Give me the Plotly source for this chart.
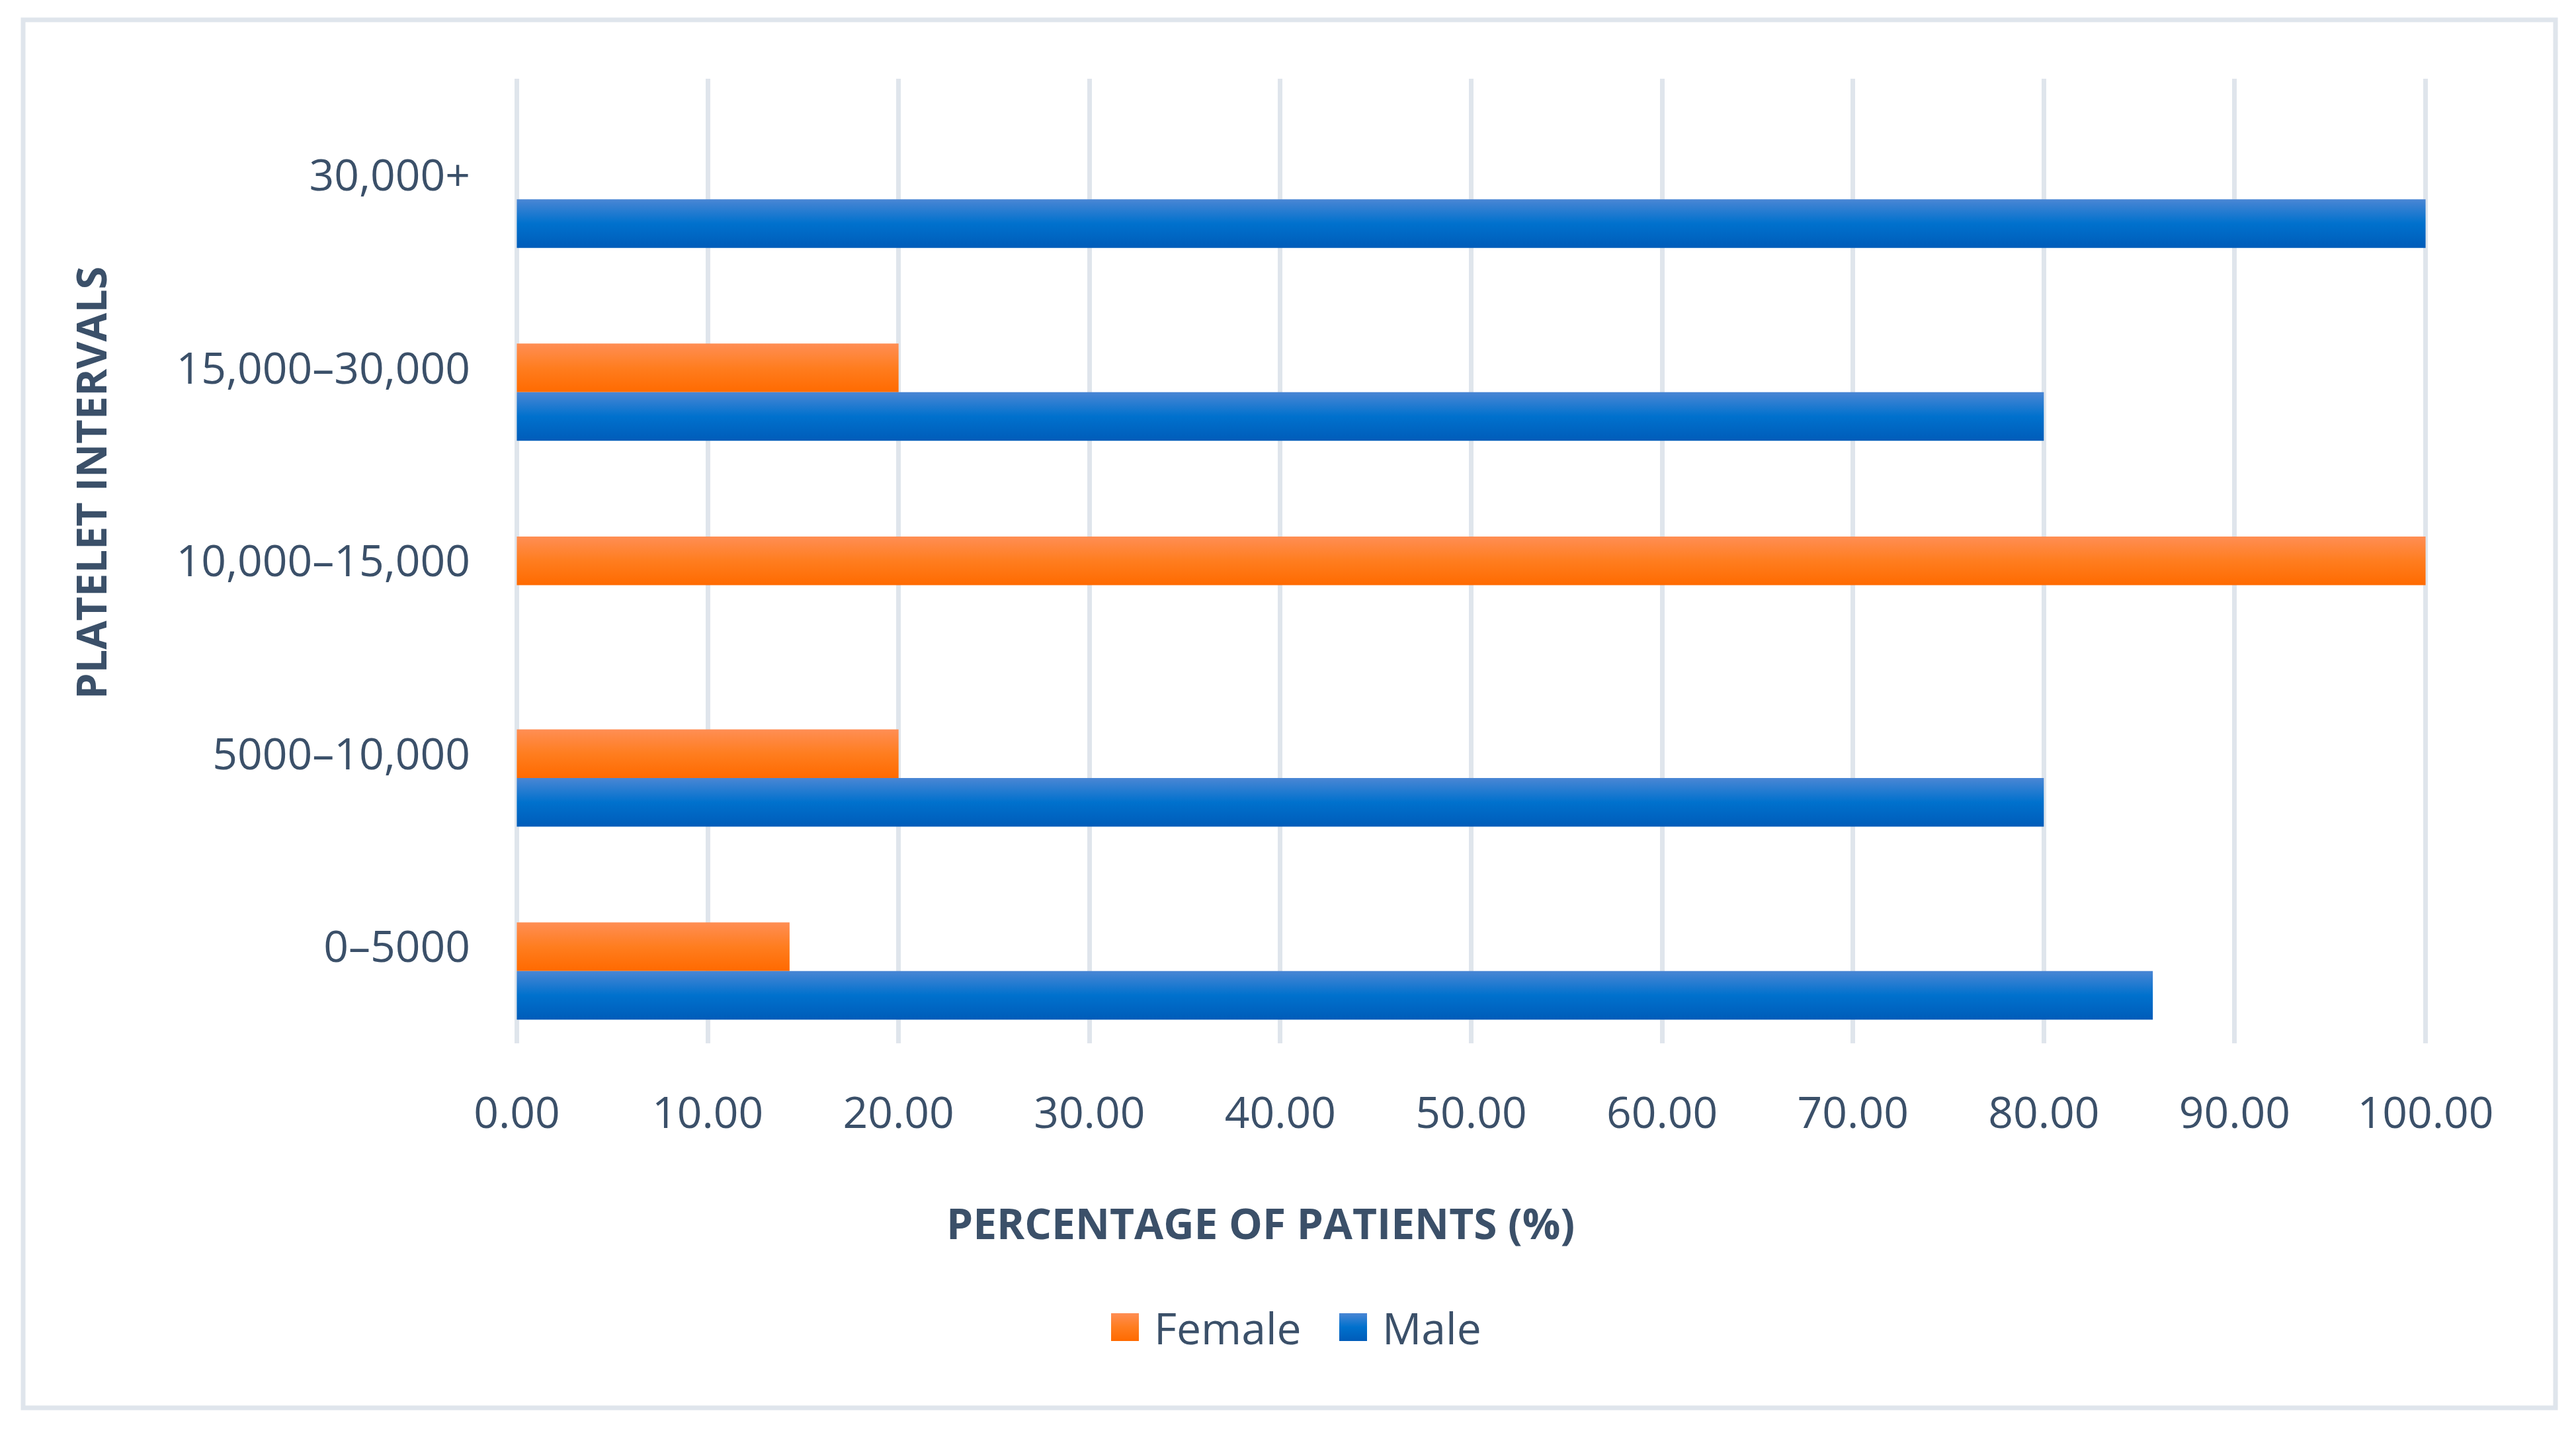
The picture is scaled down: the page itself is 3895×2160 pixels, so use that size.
import plotly.graph_objects as go

# ---- data ----
categories = ["0–5000", "5000–10,000", "10,000–15,000", "15,000–30,000", "30,000+"]
female = [14.29, 20.0, 100.0, 20.0, 0.0]
male = [85.71, 80.0, 0.0, 80.0, 100.0]
x_ticks = [0, 10, 20, 30, 40, 50, 60, 70, 80, 90, 100]
x_title = "PERCENTAGE OF PATIENTS (%)"
y_title = "PLATELET INTERVALS"

TEXT = "#3b5069"
GRID = "#dfe5ec"
FONT = "Open Sans"

W, H = 3895, 2160
L, R, T, B = 780, W - 3669, 119, H - 1577
pw, ph = W - L - R, H - T - B

fig = go.Figure()
fig.add_trace(go.Bar(
    name="Female", y=categories, x=female, orientation="h",
    marker=dict(color="#ff7a1c", line=dict(width=0)),
    width=0.252, offset=-0.125,
))
fig.add_trace(go.Bar(
    name="Male", y=categories, x=male, orientation="h",
    marker=dict(color="#0070cc", line=dict(width=0)),
    width=0.252, offset=-0.377,
))


def px_x(p):
    return (p - L) / pw


def px_y(p):
    return (H - B - p) / ph


fig.update_layout(
    width=W, height=H, autosize=False,
    paper_bgcolor="white", plot_bgcolor="white",
    margin=dict(l=L, r=R, t=T, b=B, pad=0, autoexpand=False),
    barmode="overlay",
    font=dict(family=FONT, color=TEXT, size=66),
    xaxis=dict(
        range=[-0.05, 100.05], tickvals=x_ticks, tickformat=".2f",
        showgrid=True, gridcolor=GRID, gridwidth=7,
        zeroline=False, showline=False, ticks="",
        ticklabelstandoff=61,
        tickfont=dict(family=FONT, size=66, color=TEXT),
        fixedrange=True,
    ),
    yaxis=dict(
        type="category", categoryorder="array", categoryarray=categories,
        range=[-0.5, 4.5], showgrid=False, zeroline=False, showline=False,
        ticks="", ticklabelstandoff=68,
        tickfont=dict(family=FONT, size=66, color=TEXT),
        fixedrange=True,
    ),
    showlegend=True,
    legend=dict(
        orientation="h", xref="container", yref="container",
        x=1705 / W, xanchor="left", y=(H - 2006) / H, yanchor="middle",
        font=dict(family=FONT, size=66, color=TEXT),
        bgcolor="rgba(0,0,0,0)", traceorder="normal",
        entrywidth=300, entrywidthmode="pixels",
    ),
    annotations=[
        dict(text="<b>" + x_title + "</b>", xref="paper", yref="paper",
             x=px_x(1906), y=px_y(1849), xanchor="center", yanchor="middle",
             showarrow=False, font=dict(family=FONT, size=64, color=TEXT)),
        dict(text="<b>" + y_title + "</b>", xref="paper", yref="paper",
             x=px_x(136), y=px_y(730), xanchor="center", yanchor="middle",
             textangle=-90, showarrow=False,
             font=dict(family=FONT, size=63, color=TEXT)),
    ],
    shapes=[
        dict(type="rect", xref="paper", yref="paper", layer="below",
             x0=px_x(35), x1=px_x(3864), y0=px_y(2128), y1=px_y(30),
             line=dict(color=GRID, width=7), fillcolor="rgba(0,0,0,0)"),
    ],
)

post = """
document.body.style.margin = '0';
document.body.style.padding = '0';
var gd = document.getElementById('{plot_id}');
function fixStyle(){
  var ns = 'http://www.w3.org/2000/svg';
  var svg = gd.querySelector('svg.main-svg');
  if (!svg) return;
  var defs = svg.querySelector('defs');
  if (!defs) { defs = document.createElementNS(ns, 'defs'); svg.insertBefore(defs, svg.firstChild); }
  function mk(id, stops){
    if (document.getElementById(id)) return;
    var g = document.createElementNS(ns, 'linearGradient');
    g.setAttribute('id', id); g.setAttribute('x1','0'); g.setAttribute('y1','0');
    g.setAttribute('x2','0'); g.setAttribute('y2','1');
    stops.forEach(function(s){
      var st = document.createElementNS(ns, 'stop');
      st.setAttribute('offset', s[0]); st.setAttribute('stop-color', s[1]);
      g.appendChild(st);
    });
    defs.appendChild(g);
  }
  mk('gradF', [['0','#ff8e54'],['0.5','#ff7d1f'],['1','#ff6a00']]);
  mk('gradM', [['0','#4a86d4'],['0.5','#0071cd'],['1','#005cb9']]);
  var ids = ['gradF','gradM'];
  var tr = gd.querySelectorAll('.barlayer .trace');
  tr.forEach(function(t, i){
    t.querySelectorAll('path').forEach(function(p){ p.style.fill = 'url(#' + ids[i] + ')'; });
  });
  gd.querySelectorAll('.legend [clip-path]').forEach(function(e){ e.removeAttribute('clip-path'); });
  var lg = gd.querySelectorAll('.legend .traces');
  lg.forEach(function(t, i){
    t.querySelectorAll('.legendpoints path').forEach(function(p){
      p.setAttribute('d', 'M-3,21H-45V-21H-3Z');
      p.style.fill = 'url(#' + ids[i] + ')';
    });
  });
}
fixStyle();
gd.on('plotly_afterplot', fixStyle);
"""

fig.write_html("out.html", post_script=post, config={"responsive": False, "displayModeBar": False})
